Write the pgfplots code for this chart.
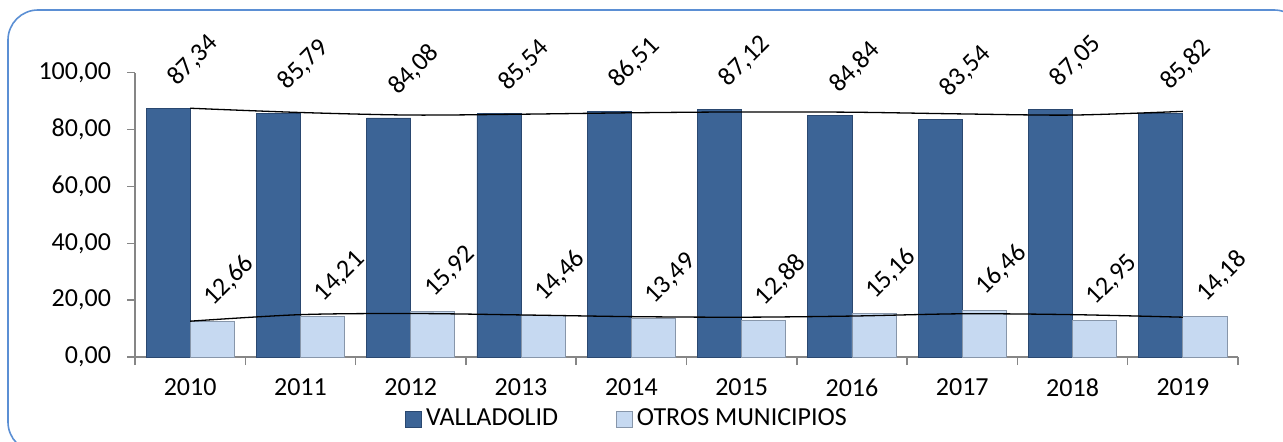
\documentclass[border=0pt]{standalone}
\usepackage{fontspec}
\setmainfont{Carlito}
\usepackage{pgfplots}
\pgfplotsset{compat=1.18}
\definecolor{darkbar}{RGB}{60,100,150}
\definecolor{darkedge}{RGB}{42,72,112}
\definecolor{lightbar}{RGB}{198,217,241}
\definecolor{lightedge}{RGB}{135,150,170}
\definecolor{axisgray}{RGB}{134,134,134}
\definecolor{framecol}{RGB}{91,143,212}
\begin{document}
\begin{tikzpicture}
\useasboundingbox (0pt,0pt) rectangle (641.5pt,-221pt);
\draw[framecol, line width=0.8pt, rounded corners=15pt] (4pt,-5pt) rectangle (652pt,-226pt);
\begin{axis}[
  at={(67.5pt,-178.5pt)}, anchor=south west,
  scale only axis, width=551.5pt, height=142.15pt,
  xmin=-0.5, xmax=9.5, ymin=0, ymax=100,
  clip=false,
  axis lines=left,
  axis line style={-, draw=axisgray, line width=0.75pt},
  tick align=outside, major tick length=4pt,
  ytick={0,20,...,100},
  ytick style={draw=axisgray, line width=0.75pt},
  xtick={0,...,9},
  xticklabels={2010,2011,2012,2013,2014,2015,2016,2017,2018,2019},
  xtick style={draw=none},
  extra x ticks={-0.5,0.5,1.5,2.5,3.5,4.5,5.5,6.5,7.5,8.5,9.5},
  extra x tick labels={},
  extra x tick style={xtick style={draw=axisgray, line width=0.75pt}, major tick length=4pt},
  ticklabel style={font=\fontsize{13}{15}\selectfont, text=black},
  yticklabel style={xshift=-4.5pt},
  xticklabel style={yshift=-3.5pt},
  /pgf/number format/fixed,
  /pgf/number format/fixed zerofill,
  /pgf/number format/precision=2,
  /pgf/number format/use comma,
  /pgf/number format/1000 sep={},
  /pgf/number format/assume math mode=true,
  legend image code/.code={\draw[#1] (0pt,-4pt) rectangle (8pt,4pt);},
  legend style={at={(0.447,-0.218)}, anchor=center, draw=none, fill=none,
    legend columns=2, font=\fontsize{13}{15}\selectfont,
    /tikz/every even column/.append style={column sep=27pt}},
]
\addplot[ybar, bar width=0.4, bar shift=-0.2, fill=darkbar, draw=darkedge,
  nodes near coords,
  nodes near coords style={font=\fontsize{13}{15}\selectfont, text=black, inner sep=0pt,
    yshift=11pt, xshift=-6.5pt, rotate=45, anchor=base west}]
coordinates {(0,87.34) (1,85.79) (2,84.08) (3,85.54) (4,86.51) (5,87.12) (6,84.84) (7,83.54) (8,87.05) (9,85.82)};
\addplot[ybar, bar width=0.4, bar shift=0.2, fill=lightbar, draw=lightedge,
  nodes near coords,
  nodes near coords style={font=\fontsize{13}{15}\selectfont, text=black, inner sep=0pt,
    yshift=7pt, xshift=11.5pt, rotate=45, anchor=base west}]
coordinates {(0,12.66) (1,14.21) (2,15.92) (3,14.46) (4,13.49) (5,12.88) (6,15.16) (7,16.46) (8,12.95) (9,14.18)};
\addplot[black, line width=0.65pt, smooth, forget plot]
coordinates {(0,87.5) (1,86.0) (2,85.1) (3,85.4) (4,85.9) (5,86.2) (6,86.1) (7,85.5) (8,85.1) (9,86.4)};
\addplot[black, line width=0.65pt, smooth, forget plot]
coordinates {(0,12.6) (1,14.9) (2,15.3) (3,14.8) (4,14.2) (5,14.0) (6,14.4) (7,15.2) (8,14.9) (9,14.0)};
\legend{VALLADOLID, OTROS MUNICIPIOS}
\end{axis}
\end{tikzpicture}
\end{document}
